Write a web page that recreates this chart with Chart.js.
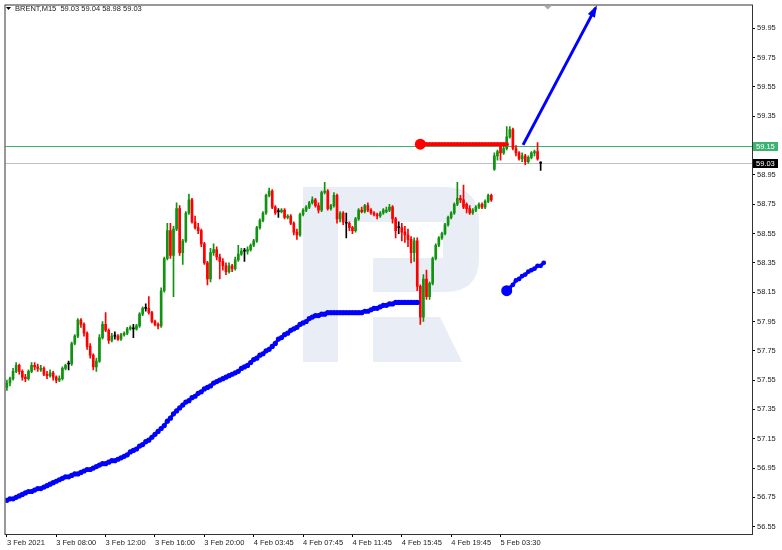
<!DOCTYPE html>
<html>
<head>
<meta charset="utf-8">
<script src="https://cdn.jsdelivr.net/npm/chart.js@4.4.0/dist/chart.umd.min.js"></script>
<style>
  html, body { margin: 0; padding: 0; background: #fff; }
  #wrap { width: 782px; height: 550px; }
</style>
</head>
<body>
<div id="wrap"><canvas id="chart" width="782" height="550"></canvas></div>
<script>
// BRENT M15, bar 0 = first visible bar on 3 Feb 2021
const opens = [
  57.50, 57.53, 57.56, 57.61, 57.65, 57.61, 57.57, 57.56, 57.61, 57.65,
  57.64, 57.62, 57.63, 57.59, 57.58, 57.60, 57.57, 57.55, 57.56, 57.63,
  57.66, 57.66, 57.80, 57.85, 57.96, 57.93, 57.87, 57.78, 57.72, 57.64,
  57.68, 57.84, 57.93, 57.89, 57.82, 57.85, 57.85, 57.83, 57.86, 57.87,
  57.90, 57.90, 57.90, 57.92, 58.00, 58.04, 58.04, 58.01, 57.95, 57.93,
  57.92, 58.16, 58.38, 58.57, 58.40, 58.58, 58.72, 58.42, 58.50, 58.69,
  58.78, 58.63, 58.59, 58.57, 58.48, 58.35, 58.24, 58.42, 58.44, 58.39,
  58.36, 58.33, 58.29, 58.33, 58.31, 58.37, 58.41, 58.43, 58.43, 58.44,
  58.47, 58.50, 58.59, 58.64, 58.69, 58.81, 58.84, 58.73, 58.70, 58.70,
  58.71, 58.66, 58.67, 58.62, 58.56, 58.54, 58.68, 58.71, 58.73, 58.76,
  58.78, 58.74, 58.71, 58.83, 58.84, 58.72, 58.74, 58.81, 58.65, 58.69,
  58.62, 58.62, 58.59, 58.57, 58.65, 58.71, 58.70, 58.74, 58.71, 58.69,
  58.68, 58.67, 58.69, 58.70, 58.71, 58.73, 58.65, 58.59, 58.59, 58.56,
  58.54, 58.51, 58.42, 58.50, 58.19, 57.98, 58.24, 58.12, 58.21, 58.38,
  58.47, 58.52, 58.55, 58.61, 58.66, 58.69, 58.75, 58.79, 58.78, 58.75,
  58.72, 58.69, 58.71, 58.73, 58.75, 58.73, 58.77, 58.81, 58.99, 59.08,
  59.15, 59.10, 59.13, 59.21, 59.26, 59.13, 59.10, 59.06, 59.08, 59.04,
  59.07, 59.10, 59.11, 59.03
];
const highs = [
  57.55, 57.57, 57.63, 57.67, 57.66, 57.62, 57.59, 57.62, 57.67, 57.67,
  57.66, 57.65, 57.64, 57.61, 57.62, 57.61, 57.58, 57.58, 57.64, 57.66,
  57.68, 57.81, 57.86, 57.97, 57.97, 57.94, 57.88, 57.80, 57.73, 57.70,
  57.86, 57.95, 58.01, 57.90, 57.87, 57.88, 57.86, 57.87, 57.88, 57.91,
  57.92, 57.93, 57.93, 58.01, 58.05, 58.07, 58.12, 58.02, 57.96, 57.94,
  58.18, 58.39, 58.62, 58.62, 58.60, 58.76, 58.74, 58.51, 58.70, 58.82,
  58.79, 58.67, 58.62, 58.58, 58.49, 58.36, 58.45, 58.48, 58.46, 58.41,
  58.38, 58.35, 58.35, 58.34, 58.39, 58.47, 58.45, 58.45, 58.46, 58.48,
  58.51, 58.60, 58.65, 58.70, 58.82, 58.86, 58.85, 58.74, 58.72, 58.72,
  58.72, 58.68, 58.68, 58.63, 58.58, 58.69, 58.72, 58.74, 58.77, 58.80,
  58.79, 58.76, 58.84, 58.90, 58.85, 58.75, 58.83, 58.82, 58.70, 58.70,
  58.69, 58.63, 58.60, 58.66, 58.72, 58.73, 58.75, 58.76, 58.72, 58.70,
  58.69, 58.70, 58.72, 58.73, 58.75, 58.74, 58.66, 58.63, 58.62, 58.60,
  58.58, 58.53, 58.52, 58.52, 58.20, 58.27, 58.30, 58.22, 58.39, 58.48,
  58.53, 58.56, 58.62, 58.67, 58.70, 58.76, 58.90, 58.81, 58.88, 58.76,
  58.74, 58.72, 58.74, 58.76, 58.76, 58.78, 58.82, 58.82, 59.10, 59.12,
  59.16, 59.15, 59.28, 59.28, 59.27, 59.15, 59.11, 59.10, 59.09, 59.08,
  59.11, 59.12, 59.17, 59.04
];
const lows = [
  57.48, 57.51, 57.55, 57.60, 57.59, 57.55, 57.54, 57.55, 57.60, 57.62,
  57.61, 57.61, 57.58, 57.56, 57.57, 57.55, 57.53, 57.54, 57.55, 57.62,
  57.62, 57.65, 57.79, 57.84, 57.91, 57.85, 57.76, 57.70, 57.62, 57.61,
  57.67, 57.83, 57.88, 57.80, 57.81, 57.83, 57.82, 57.82, 57.85, 57.86,
  57.89, 57.84, 57.89, 57.91, 57.99, 58.02, 58.00, 57.94, 57.92, 57.90,
  57.91, 58.15, 58.37, 58.38, 58.12, 58.57, 58.40, 58.34, 58.49, 58.68,
  58.62, 58.58, 58.55, 58.46, 58.34, 58.20, 58.22, 58.40, 58.37, 58.24,
  58.30, 58.27, 58.28, 58.29, 58.30, 58.36, 58.40, 58.36, 58.41, 58.43,
  58.46, 58.49, 58.58, 58.63, 58.68, 58.80, 58.72, 58.68, 58.66, 58.69,
  58.65, 58.65, 58.61, 58.54, 58.51, 58.53, 58.67, 58.70, 58.72, 58.75,
  58.73, 58.69, 58.70, 58.82, 58.71, 58.71, 58.73, 58.62, 58.63, 58.61,
  58.52, 58.57, 58.55, 58.56, 58.64, 58.69, 58.69, 58.70, 58.68, 58.67,
  58.65, 58.66, 58.68, 58.69, 58.70, 58.62, 58.52, 58.55, 58.50, 58.49,
  58.46, 58.35, 58.36, 58.16, 57.93, 57.95, 58.10, 58.10, 58.20, 58.37,
  58.46, 58.51, 58.54, 58.60, 58.65, 58.68, 58.74, 58.76, 58.72, 58.69,
  58.68, 58.68, 58.70, 58.72, 58.72, 58.72, 58.76, 58.77, 58.98, 59.05,
  59.05, 59.09, 59.12, 59.20, 59.12, 59.08, 59.05, 59.04, 59.02, 59.03,
  59.06, 59.08, 59.05, 58.98
];
const closes = [
  57.53, 57.56, 57.61, 57.65, 57.61, 57.57, 57.56, 57.61, 57.65, 57.64,
  57.63, 57.63, 57.59, 57.58, 57.60, 57.57, 57.55, 57.56, 57.63, 57.65,
  57.66, 57.80, 57.85, 57.96, 57.93, 57.87, 57.78, 57.72, 57.64, 57.68,
  57.84, 57.93, 57.89, 57.82, 57.85, 57.85, 57.83, 57.86, 57.87, 57.90,
  57.91, 57.90, 57.92, 58.00, 58.04, 58.04, 58.01, 57.95, 57.93, 57.92,
  58.16, 58.38, 58.57, 58.40, 58.58, 58.72, 58.42, 58.50, 58.69, 58.78,
  58.63, 58.59, 58.57, 58.48, 58.35, 58.24, 58.42, 58.44, 58.39, 58.36,
  58.33, 58.29, 58.33, 58.31, 58.37, 58.41, 58.43, 58.43, 58.44, 58.47,
  58.50, 58.59, 58.64, 58.69, 58.81, 58.84, 58.73, 58.69, 58.70, 58.71,
  58.66, 58.67, 58.62, 58.56, 58.54, 58.68, 58.71, 58.73, 58.76, 58.78,
  58.74, 58.71, 58.83, 58.84, 58.72, 58.74, 58.81, 58.65, 58.69, 58.63,
  58.62, 58.59, 58.57, 58.65, 58.71, 58.70, 58.74, 58.71, 58.69, 58.68,
  58.67, 58.69, 58.71, 58.71, 58.73, 58.65, 58.57, 58.59, 58.56, 58.54,
  58.51, 58.42, 58.50, 58.19, 57.98, 58.24, 58.12, 58.21, 58.38, 58.47,
  58.52, 58.55, 58.61, 58.66, 58.69, 58.75, 58.79, 58.78, 58.73, 58.72,
  58.69, 58.71, 58.73, 58.75, 58.73, 58.77, 58.81, 58.78, 59.08, 59.11,
  59.10, 59.13, 59.21, 59.26, 59.13, 59.10, 59.06, 59.08, 59.04, 59.07,
  59.10, 59.11, 59.06, 59.03
];

// time axis labels, one every 16 bars
const tickBars = [0, 16, 32, 48, 64, 80, 96, 112, 128, 144, 160];
const tickLabels = ["3 Feb 2021", "3 Feb 08:00", "3 Feb 12:00", "3 Feb 16:00", "3 Feb 20:00",
  "4 Feb 03:45", "4 Feb 07:45", "4 Feb 11:45", "4 Feb 15:45", "4 Feb 19:45", "5 Feb 03:30"];
const priceTicks = [56.55, 56.75, 56.95, 57.15, 57.35, 57.55, 57.75, 57.95, 58.15, 58.35,
  58.55, 58.75, 58.95, 59.15, 59.35, 59.55, 59.75, 59.95];

// blue dotted average, starting at bar 0
const maValues = [
  56.73, 56.74, 56.74, 56.75, 56.76, 56.77, 56.78, 56.79, 56.79, 56.80,
  56.81, 56.81, 56.82, 56.83, 56.84, 56.85, 56.86, 56.87, 56.88, 56.89,
  56.89, 56.90, 56.91, 56.91, 56.92, 56.93, 56.94, 56.94, 56.95, 56.96,
  56.97, 56.98, 56.98, 56.99, 57.00, 57.00, 57.01, 57.02, 57.03, 57.04,
  57.06, 57.07, 57.08, 57.10, 57.11, 57.13, 57.14, 57.16, 57.18, 57.20,
  57.22, 57.24, 57.27, 57.29, 57.32, 57.34, 57.36, 57.38, 57.40, 57.41,
  57.43, 57.44, 57.46, 57.47, 57.49, 57.50, 57.51, 57.53, 57.54, 57.55,
  57.56, 57.57, 57.58, 57.59, 57.60, 57.61, 57.63, 57.64, 57.65, 57.67,
  57.69, 57.70, 57.72, 57.73, 57.75, 57.76, 57.78, 57.80, 57.83, 57.84,
  57.86, 57.87, 57.89, 57.90, 57.91, 57.93, 57.94, 57.95, 57.97, 57.98,
  57.99, 57.99, 58.00, 58.00, 58.01, 58.01, 58.01, 58.01, 58.01, 58.01,
  58.01, 58.01, 58.01, 58.01, 58.01, 58.01, 58.02, 58.02, 58.03, 58.04,
  58.04, 58.05, 58.06, 58.06, 58.07, 58.07, 58.08, 58.08, 58.08, 58.08,
  58.08, 58.08, 58.08, 58.08
];
// second blue piece, from bar 162
const forecastStart = 162;
const forecastValues = [58.16, 58.18, 58.20, 58.23, 58.24, 58.26, 58.27, 58.29, 58.30, 58.31, 58.33, 58.33, 58.35];

// red level drawn from bar 134 to bar 162
const redLevel = 59.16;
const redFrom = 134;
const redTo = 162;
// arrow: [bar, price]
const arrowFrom = [167.3, 59.155];
const arrowTo = [190.8, 60.09];

const greenLevel = 59.15;
const bidLevel = 59.03;
const shiftMarkBar = 175.3;

const upColor = "#119311";
const downColor = "#ff0000";
const font = '"Liberation Sans", Arial, sans-serif';

const bars = closes.map((c, i) => i);
const candleColors = bars.map(i => closes[i] > opens[i] ? upColor : (closes[i] < opens[i] ? downColor : "#000000"));

const redPoints = [];
for (let i = redFrom; i <= redTo; i++) redPoints.push({ x: i, y: redLevel });

// background, watermark, level lines, frame and price tags
const chartDecor = {
  id: "chartDecor",
  beforeDraw(chart) {
    const ctx = chart.ctx;
    ctx.save();
    ctx.fillStyle = "#fff";
    ctx.fillRect(0, 0, chart.width, chart.height);
    ctx.restore();
  },
  beforeDatasetsDraw(chart) {
    const { ctx, chartArea: a, scales: { y } } = chart;
    ctx.save();
    // watermark logo
    ctx.fillStyle = "#e9edf5";
    ctx.fillRect(303, 187, 35, 175);
    ctx.beginPath();
    ctx.moveTo(338, 187);
    ctx.lineTo(445, 187);
    ctx.quadraticCurveTo(479, 187, 479, 221);
    ctx.lineTo(479, 258);
    ctx.quadraticCurveTo(479, 292, 445, 292);
    ctx.lineTo(373, 292);
    ctx.lineTo(373, 258);
    ctx.lineTo(443, 258);
    ctx.lineTo(443, 222);
    ctx.lineTo(338, 222);
    ctx.closePath();
    ctx.fill();
    ctx.beginPath();
    ctx.moveTo(373, 317);
    ctx.lineTo(440, 317);
    ctx.lineTo(462, 362);
    ctx.lineTo(373, 362);
    ctx.closePath();
    ctx.fill();

    // horizontal levels
    const gy = Math.round(y.getPixelForValue(greenLevel)) + 0.5;
    const by = Math.round(y.getPixelForValue(bidLevel)) + 0.5;
    ctx.lineWidth = 1;
    ctx.strokeStyle = "#c0c0c0";
    ctx.beginPath(); ctx.moveTo(a.left, by); ctx.lineTo(a.right, by); ctx.stroke();
    ctx.strokeStyle = "#3cb371";
    ctx.beginPath(); ctx.moveTo(a.left, gy); ctx.lineTo(a.right, gy); ctx.stroke();
    ctx.restore();
  },
  afterDraw(chart) {
    const { ctx, chartArea: a, scales: { x, y } } = chart;
    ctx.save();

    // arrow head
    const sx = x.getPixelForValue(arrowFrom[0]), sy = y.getPixelForValue(arrowFrom[1]);
    const ex = x.getPixelForValue(arrowTo[0]), ey = y.getPixelForValue(arrowTo[1]);
    const ang = Math.atan2(ey - sy, ex - sx);
    ctx.fillStyle = "#0000ff";
    ctx.beginPath();
    ctx.moveTo(ex + Math.cos(ang) * 3, ey + Math.sin(ang) * 3);
    ctx.lineTo(ex - Math.cos(ang) * 9 + Math.sin(ang) * 4, ey - Math.sin(ang) * 9 - Math.cos(ang) * 4);
    ctx.lineTo(ex - Math.cos(ang) * 9 - Math.sin(ang) * 4, ey - Math.sin(ang) * 9 + Math.cos(ang) * 4);
    ctx.closePath();
    ctx.fill();

    // frame
    ctx.strokeStyle = "#333";
    ctx.lineWidth = 1;
    ctx.strokeRect(a.left - 0.5, a.top - 0.5, a.right - a.left + 1, a.bottom - a.top + 1);

    // chart shift marker
    const mx = x.getPixelForValue(shiftMarkBar);
    ctx.fillStyle = "#a8a8a8";
    ctx.beginPath();
    ctx.moveTo(mx - 4, a.top);
    ctx.lineTo(mx + 4, a.top);
    ctx.lineTo(mx, a.top + 4);
    ctx.closePath();
    ctx.fill();

    // title
    const last = closes.length - 1;
    ctx.fillStyle = "#000";
    ctx.beginPath();
    ctx.moveTo(6, 7); ctx.lineTo(11, 7); ctx.lineTo(8.5, 10);
    ctx.closePath();
    ctx.fill();
    ctx.font = "7.5px " + font;
    ctx.textBaseline = "middle";
    ctx.textAlign = "left";
    ctx.fillStyle = "#222";
    ctx.fillText("BRENT,M15  " + opens[last].toFixed(2) + " " + highs[last].toFixed(2) + " " +
      lows[last].toFixed(2) + " " + closes[last].toFixed(2), 15, 9);

    // price tags on the axis
    const tag = (val, bg) => {
      const py = Math.round(y.getPixelForValue(val));
      ctx.fillStyle = bg;
      ctx.fillRect(a.right + 1, py - 4, 25, 9);
      ctx.fillStyle = "#fff";
      ctx.fillText(val.toFixed(2), a.right + 4, py + 0.5);
    };
    tag(greenLevel, "#3cb371");
    tag(bidLevel, "#000");
    ctx.restore();
  }
};

new Chart(document.getElementById("chart"), {
  type: "bar",
  data: {
    datasets: [
      {
        type: "line",
        label: "arrow",
        data: [{ x: arrowFrom[0], y: arrowFrom[1] }, { x: arrowTo[0], y: arrowTo[1] }],
        borderColor: "#0000ff",
        borderWidth: 3,
        pointRadius: 0,
        order: 0
      },
      {
        type: "line",
        label: "level",
        data: redPoints,
        borderColor: "#ff0000",
        borderWidth: 3,
        pointRadius: redPoints.map((p, k) => k === 0 ? 5.5 : 2.2),
        pointBackgroundColor: "#ff0000",
        pointBorderWidth: 0,
        order: 1
      },
      {
        type: "line",
        label: "forecast",
        data: forecastValues.map((v, k) => ({ x: forecastStart + k, y: v })),
        borderColor: "#0000ff",
        borderWidth: 3,
        pointRadius: forecastValues.map((v, k) => k === 0 ? 5.5 : 2.4),
        pointBackgroundColor: "#0000ff",
        pointBorderWidth: 0,
        order: 1
      },
      {
        type: "line",
        label: "average",
        data: maValues.map((v, i) => ({ x: i, y: v })),
        borderColor: "#0000ff",
        borderWidth: 3,
        pointRadius: 2.6,
        pointBackgroundColor: "#0000ff",
        pointBorderWidth: 0,
        order: 2
      },
      {
        label: "bodies",
        data: bars.map(i => ({ x: i, y: [opens[i], closes[i]] })),
        backgroundColor: candleColors,
        barThickness: 2,
        minBarLength: 1,
        grouped: false,
        order: 3
      },
      {
        label: "wicks",
        data: bars.map(i => ({ x: i, y: [lows[i], highs[i]] })),
        backgroundColor: candleColors,
        barThickness: 1,
        grouped: false,
        order: 4
      }
    ]
  },
  options: {
    responsive: false,
    animation: false,
    devicePixelRatio: 1,
    layout: { padding: { left: 2, top: 3, right: 0, bottom: 0 } },
    plugins: { legend: { display: false }, tooltip: { enabled: false } },
    elements: { line: { tension: 0 } },
    scales: {
      x: {
        type: "linear",
        min: -0.45,
        max: 241.5,
        offset: false,
        afterBuildTicks: scale => { scale.ticks = tickBars.map(v => ({ value: v })); },
        afterFit: scale => { scale.height = 16; scale.paddingLeft = 0; scale.paddingRight = 0; },
        grid: { display: true, offset: false, drawOnChartArea: false, drawTicks: true, tickLength: 3, color: "#000" },
        border: { display: false },
        ticks: {
          autoSkip: false,
          maxRotation: 0,
          align: "start",
          padding: 1,
          color: "#222",
          font: { family: font, size: 7.5 },
          callback: (v, idx) => tickLabels[idx]
        }
      },
      y: {
        position: "right",
        min: 56.50,
        max: 60.106,
        afterBuildTicks: scale => { scale.ticks = priceTicks.map(v => ({ value: v })); },
        afterFit: scale => { scale.width = 30; scale.paddingTop = 0; scale.paddingBottom = 0; },
        grid: { display: true, drawOnChartArea: false, drawTicks: true, tickLength: 3, color: "#000" },
        border: { display: false },
        ticks: {
          autoSkip: false,
          padding: 2,
          color: "#222",
          font: { family: font, size: 7.5 },
          callback: v => v.toFixed(2)
        }
      }
    }
  },
  plugins: [chartDecor]
});
</script>
</body>
</html>
